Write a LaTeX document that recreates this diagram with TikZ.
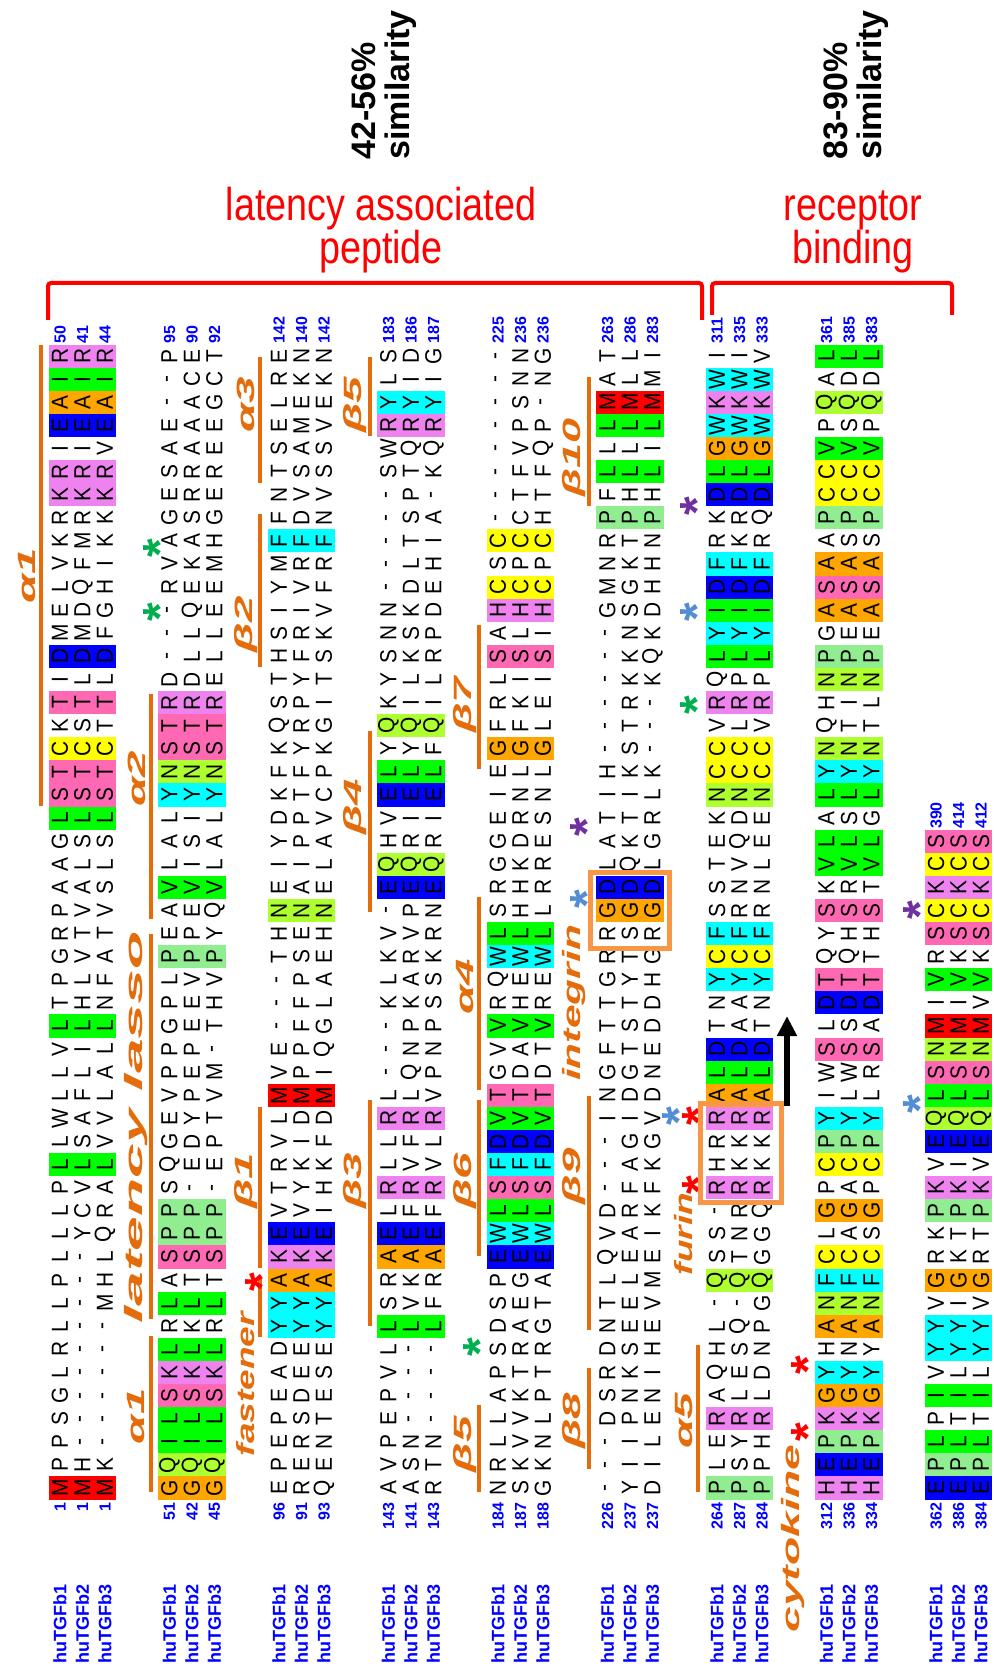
\documentclass[tikz,border=0pt]{standalone}
\usepackage{fontspec}
\setmainfont{Liberation Sans}
\usetikzlibrary{arrows.meta, positioning}

% residue colours for fully conserved columns
\definecolor{resM}{RGB}{255,0,0}
\definecolor{resL}{RGB}{0,255,0}
\colorlet{resI}{resL}
\colorlet{resV}{resL}
\definecolor{resA}{RGB}{255,165,0}
\colorlet{resG}{resA}
\definecolor{resD}{RGB}{0,0,255}
\colorlet{resE}{resD}
\definecolor{resK}{RGB}{238,130,238}
\colorlet{resR}{resK}
\colorlet{resH}{resK}
\definecolor{resS}{RGB}{255,105,180}
\colorlet{resT}{resS}
\definecolor{resC}{RGB}{255,255,0}
\definecolor{resF}{RGB}{0,255,255}
\colorlet{resY}{resF}
\colorlet{resW}{resF}
\definecolor{resN}{RGB}{173,255,47}
\colorlet{resQ}{resN}
\definecolor{resP}{RGB}{144,238,144}
% other colours
\definecolor{ssorange}{RGB}{228,108,10}
\definecolor{boxorange}{RGB}{247,150,70}
\definecolor{seqblue}{RGB}{0,0,255}
\definecolor{astgreen}{RGB}{0,176,80}
\definecolor{astblue}{RGB}{84,141,212}
\definecolor{astpurple}{RGB}{112,48,160}

\ExplSyntaxOn
\NewExpandableDocumentCommand{\resat}{mm}{\str_item:Nn #1 {#2}}
\ExplSyntaxOff
\def\gapchr{-}

\begin{document}
\begin{tikzpicture}[x=0.5pt, y=-0.5pt,
    declare function={bx(\n)=60+\n*109.5; py(\q)=1488-(\q-1)*23.1;},
    resid/.style={rotate=90, xscale=0.9, inner sep=0pt, font=\fontsize{11.6}{11.6}\selectfont},
    seqname/.style={rotate=90, anchor=west, inner sep=0pt, text=seqblue,
        font=\bfseries\fontsize{9}{9}\selectfont},
    seqnum/.style={rotate=90, inner sep=0pt, text=seqblue,
        font=\bfseries\fontsize{8}{8}\selectfont},
    ssbar/.style={draw=ssorange, line width=2pt},
    sslabel/.style={rotate=90, inner sep=0pt, text=ssorange,
        font=\bfseries\itshape\fontsize{12.5}{12.5}\selectfont},
    astk/.style={rotate=90, anchor=base, inner sep=0pt,
        font=\bfseries\fontsize{24}{24}\selectfont},
    sitebox/.style={draw=boxorange, line width=2.5pt},
    regionlab/.style={text=red, inner sep=0pt, anchor=base, xscale=0.82,
        font=\fontsize{23}{23}\selectfont},
    simlab/.style={rotate=90, anchor=base west, inner sep=0pt,
        font=\bfseries\fontsize{17}{17}\selectfont},
    bracket/.style={draw=red, line width=2pt, rounded corners=1.5pt}]

  \useasboundingbox (0,0) rectangle (993,1673);

  % Alignment blocks
  \foreach \k/\sqa/\sqb/\sqc/\len/\na/\nb/\nc/\ea/\eb/\ec in {%
      0/MPPSGLRLLPLLLPLLWLLVLTPGRPAAGLSTCKTIDMELVKRKRIEAIR/MH---------YCVLSAFLILHLVTVALSLSTCSTLDMDQFMRKRIEAIR/MK------MHLQRALVVLALLNFATVSLSLSTCTTLDFGHIKKKRVEAIR/50/1/1/1/50/41/44,%
      1/GQILSKLRLASPPSQGEVPPGPLPEAVLALYNSTRD---RVAGESAE--P/GQILSKLKLTSPP-EDYPEPEEVPPEVISIYNSTRDLLQEKASRRAAACE/GQILSKLRLTSPP-EPTVM-THVPYQVLALYNSTRELLEEMHGEREEGCT/50/51/42/45/95/90/92,%
      2/EPEPEADYYAKEVTRVLMVE---THNEIYDKFKQSTHSIYMFFNTSELRE/RERSDEEYYAKEVYKIDMPPFFPSENAIPPTFYRPYFRIVRFDVSAMEKN/QENTESEYYAKEIHKFDMIQGLAEHNELAVCPKGITSKVFRFNVSSVEKN/50/96/91/93/142/140/142,%
      3/AVPEPVLLSRAELRLLRL---KLKV-EQHVELYQKYSNN-----SWRYLS/ASN----LVKAEFRVFRLQNPKARVPEQRIELYQILKSKDLTSPTQRYID/RTN----LFRAEFRVLRVPNPSSKRNEQRIELFQILRPDEHIA-KQRYIG/50/143/141/143/183/186/187,%
      4/NRLLAPSDSPEWLSFDVTGVVRQWLSRGGEIEGFRLSAHCSC--------/SKVVKTRAEGEWLSFDVTDAVHEWLHHKDRNLGFKISLHCPCCTFVPSNN/GKNLPTRGTAEWLSFDVTDTVREWLLRRESNLGLEISIHCPCHTFQP-NG/50/184/187/188/225/236/236,%
      5/---DSRDNTLQVD---INGFTTGRRGDLATIH------GMNRPFLLLMAT/YIIPNKSEELEARFAGIDGTSTYTSGDQKTIKSTRKKNSGKTPHLLLMLL/DILENIHEVMEIKFKGVDNEDDHGRGDLGRLK---KQKDHHNPHLILMMI/50/226/237/237/263/286/283,%
      6/PLERAQHL-QSS-RHRRALDTNYCFSSTEKNCCVRQLYIDFRKDLGWKWI/PSYRLESQ-QTNRRKKRALDAAYCFRNVQDNCCLRPLYIDFKRDLGWKWI/PPHRLDNPGQGGQRKKRALDTNYCFRNLEENCCVRPLYIDFRQDLGWKWV/50/264/287/284/311/335/333,%
      7/HEPKGYHANFCLGPCPYIWSLDTQYSKVLALYNQHNPGASAAPCCVPQAL/HEPKGYNANFCAGACPYLWSSDTQHSRVLSLYNTINPEASASPCCVSQDL/HEPKGYYANFCSGPCPYLRSADTTHSTVLGLYNTLNPEASASPCCVPQDL/50/312/336/334/361/385/383,%
      8/EPLPIVYYVGRKPKVEQLSNMIVRSCKCS/EPLTILYYIGKTPKIEQLSNMIVKSCKCS/EPLTILYYVGRTPKVEQLSNMVVKSCKCS/29/362/386/384/390/414/412}{%
    \foreach \i in {1,...,\len}{
      \edef\ca{\resat\sqa\i}\edef\cb{\resat\sqb\i}\edef\cc{\resat\sqc\i}
      \ifx\ca\cb\ifx\ca\cc\ifx\ca\gapchr\else
        \colorlet{cellfill}{res\ca}
        \fill[cellfill] ({bx(\k)-11.25},{py(\i)-11.55}) rectangle ({bx(\k)+56.25},{py(\i)+11.55});
      \fi\fi\fi
      \node[resid] (s\k a\i) at ({bx(\k)},{py(\i)}) {\ca};
      \node[resid] (s\k b\i) at ({bx(\k)+22.5},{py(\i)}) {\cb};
      \node[resid] (s\k c\i) at ({bx(\k)+45},{py(\i)}) {\cc};
    }
    % names and residue numbers
    \node[seqname] (name\k a) at ({bx(\k)},1664) {huTGFb1};
    \node[seqname] (name\k b) at ({bx(\k)+22.5},1664) {huTGFb2};
    \node[seqname] (name\k c) at ({bx(\k)+45},1664) {huTGFb3};
    \node[seqnum, anchor=east] (first\k a) at ({bx(\k)},1502) {\na};
    \node[seqnum, anchor=east] (first\k b) at ({bx(\k)+22.5},1502) {\nb};
    \node[seqnum, anchor=east] (first\k c) at ({bx(\k)+45},1502) {\nc};
    \node[seqnum, anchor=west] (last\k a) at ({bx(\k)},{py(\len)-12}) {\ea};
    \node[seqnum, anchor=west] (last\k b) at ({bx(\k)+22.5},{py(\len)-12}) {\eb};
    \node[seqnum, anchor=west] (last\k c) at ({bx(\k)+45},{py(\len)-12}) {\ec};
  }

  % Secondary structure bars
  \foreach \k/\pa/\pb in {0/31/50, 1/1.3/7.1, 1/8.8/24.5, 1/26.1/34.9,
      2/8/9.6, 2/11/17, 2/37/42.7, 2/45/49.5,
      3/8.5/17.3, 3/26.4/33.3, 3/47/49.5,
      4/1.3/4.1, 4/11.5/17.3, 4/18.7/26.1, 4/32.6/37.9,
      5/2.3/5.7, 5/8.3/17.5, 5/44/48.6,
      6/1.3/6.7}
    \draw[ssbar] ({bx(\k)-19},{py(\pa)+11}) -- ({bx(\k)-19},{py(\pb)-11});

  % Secondary structure and site labels
  \node[sslabel, xscale=1.9] (alphaA) at ({bx(0)-33},{py(40.5)}) {α1};
  \node[sslabel, xscale=1.9] (alphaB) at ({bx(1)-33},{py(4.1)}) {α1};
  \node[sslabel, xscale=2.5] (lasso) at ({bx(1)-33},{py(16.6)}) {latency lasso};
  \node[sslabel, xscale=1.9] (alphaC) at ({bx(1)-33},{py(31.7)}) {α2};
  \node[sslabel, xscale=1.48] (fastener) at ({bx(2)-33},{py(5.5)}) {fastener};
  \node[sslabel, xscale=1.9] (betaA) at ({bx(2)-33},{py(14.3)}) {β1};
  \node[sslabel, xscale=1.9] (betaB) at ({bx(2)-33},{py(38.4)}) {β2};
  \node[sslabel, xscale=1.9] (alphaD) at ({bx(2)-33},{py(47.9)}) {α3};
  \node[sslabel, xscale=1.9] (betaC) at ({bx(3)-33},{py(14.3)}) {β3};
  \node[sslabel, xscale=1.9] (betaD) at ({bx(3)-33},{py(30.5)}) {β4};
  \node[sslabel, xscale=1.9] (betaE) at ({bx(3)-33},{py(47.9)}) {β5};
  \node[sslabel, xscale=1.9] (betaF) at ({bx(4)-33},{py(2.9)}) {β5};
  \node[sslabel, xscale=1.9] (betaG) at ({bx(4)-33},{py(14.3)}) {β6};
  \node[sslabel, xscale=1.9] (alphaE) at ({bx(4)-33},{py(22.7)}) {α4};
  \node[sslabel, xscale=1.9] (betaH) at ({bx(4)-33},{py(34.9)}) {β7};
  \node[sslabel, xscale=1.9] (betaI) at ({bx(5)-33},{py(3.9)}) {β8};
  \node[sslabel, xscale=1.9] (betaJ) at ({bx(5)-33},{py(14.5)}) {β9};
  \node[sslabel, xscale=1.7] (integrin) at ({bx(5)-33},{py(22.0)}) {integrin};
  \node[sslabel, xscale=1.8] (betaK) at ({bx(5)-33},{py(45.6)}) {β10};
  \node[sslabel, xscale=1.9] (alphaF) at ({bx(6)-33},{py(3.9)}) {α5};
  \node[sslabel, xscale=1.48] (furin) at ({bx(6)-33},{py(12.0)}) {furin};
  \node[sslabel, xscale=1.85] (cytokine) at ({bx(7)-33},{py(-1.2)}) {cytokine};

  % Asterisks
  \node[astk, text=astgreen] (starA) at (176,{py(41.7)}) {*};
  \node[astk, text=astgreen] (starB) at (176,{py(38.9)}) {*};
  \node[astk, text=red] (starC) at (278,{py(9.9)}) {*};
  \node[astk, text=astgreen] (starD) at (496,{py(7.1)}) {*};
  \node[astk, text=astblue] (starE) at (603,{py(26.5)}) {*};
  \node[astk, text=astpurple] (starF) at (603,{py(29.6)}) {*};
  \node[astk, text=astblue] (starG) at (695,{py(17.1)}) {*};
  \node[astk, text=red] (starH) at (715,{py(17.1)}) {*};
  \node[astk, text=red] (starI) at (715,{py(14.1)}) {*};
  \node[astk, text=astgreen] (starJ) at (713,{py(34.9)}) {*};
  \node[astk, text=astblue] (starK) at (713,{py(38.9)}) {*};
  \node[astk, text=astpurple] (starL) at (713,{py(43.5)}) {*};
  \node[astk, text=red] (starM) at (824,{py(3.4)}) {*};
  \node[astk, text=red] (starN) at (824,{py(6.3)}) {*};
  \node[astk, text=astblue] (starO) at (936,{py(17.6)}) {*};
  \node[astk, text=astpurple] (starP) at (936,{py(26.0)}) {*};

  % Integrin and furin sites
  \draw[sitebox] ({bx(5)-17},{py(27)-14.5}) rectangle ({bx(5)+62},{py(25)+14.5});
  \draw[sitebox] ({bx(6)-17},{py(17)-14.5}) rectangle ({bx(6)+64},{py(14)+14.5});

  % Cleavage arrow
  \coordinate (arrowfoot) at (787,{py(17)-12});
  \coordinate (arrowtip) at (787,{py(20)-33});
  \draw[line width=3.3pt, -{Triangle[length=10pt, width=9.5pt]}] (arrowfoot) -- (arrowtip);

  % Regions
  \draw[bracket] (48,320) -- (48,283) -- (702,283) -- (702,320);
  \draw[bracket] (712,315) -- (712,283) -- (952,283) -- (952,315);
  \node[regionlab] (lapA) at (381,221) {latency associated};
  \node[regionlab] (lapB) at (381,264) {peptide};
  \node[regionlab] (recA) at (853,221) {receptor};
  \node[regionlab] (recB) at (853,264) {binding};
  \node[simlab] (simlapA) at (375,160) {42-56\%};
  \node[simlab] (simlapB) at (409,160) {similarity};
  \node[simlab] (simrecA) at (847,160) {83-90\%};
  \node[simlab] (simrecB) at (881,160) {similarity};
\end{tikzpicture}
\end{document}
